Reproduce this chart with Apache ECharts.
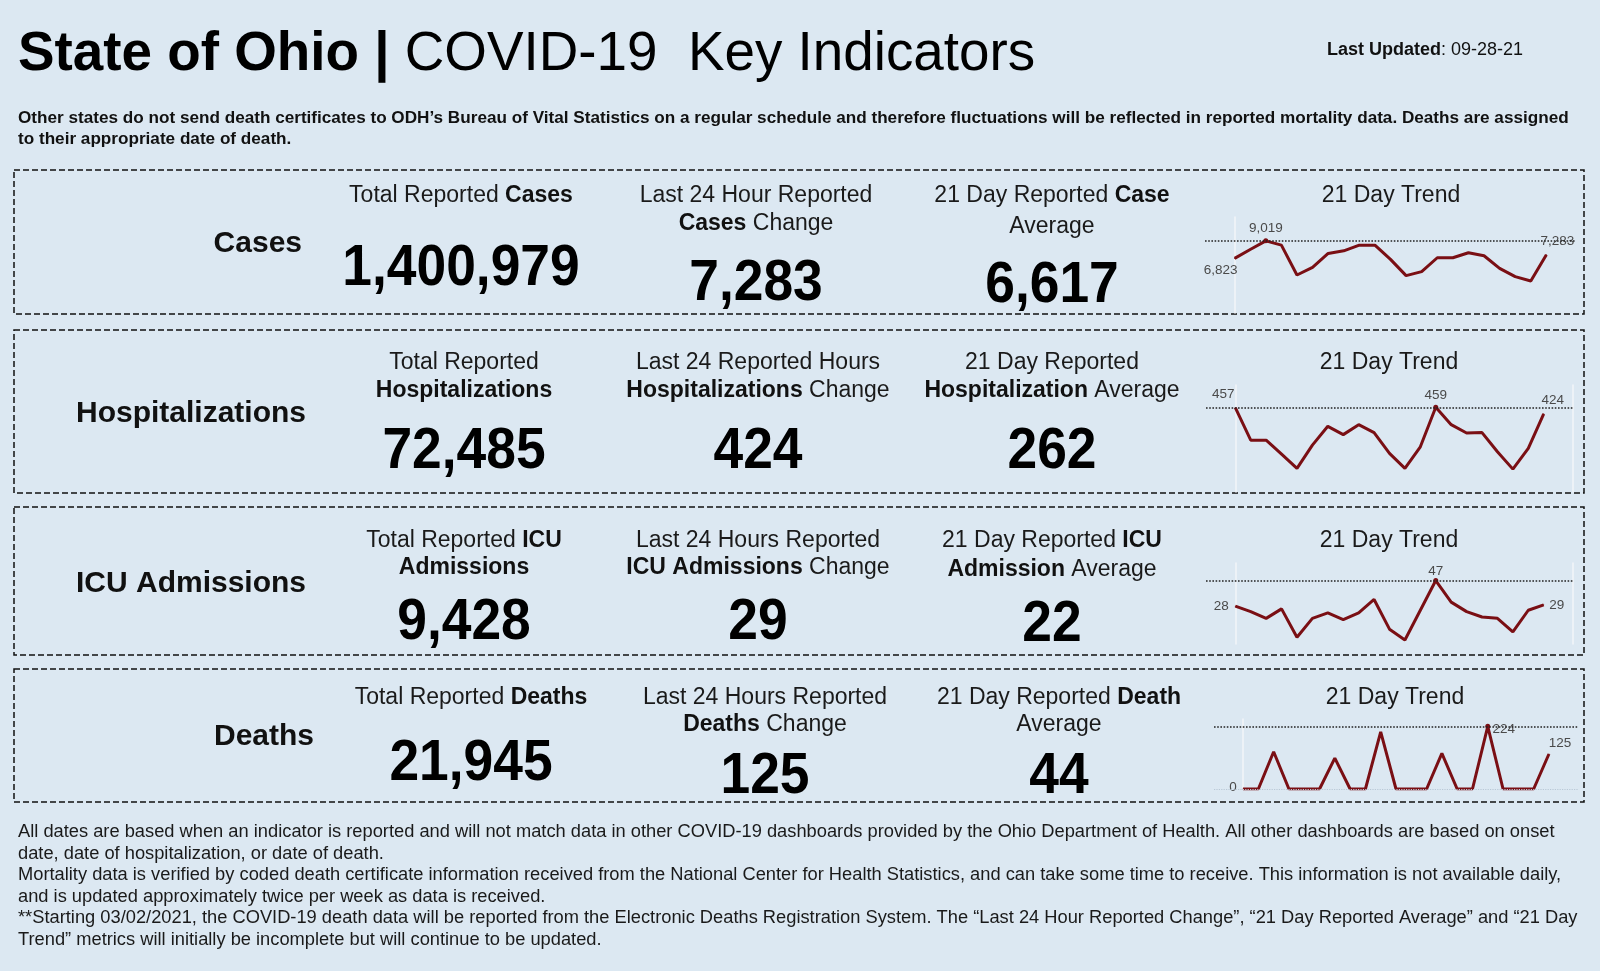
<!DOCTYPE html>
<html><head><meta charset="utf-8">
<script src="https://cdn.jsdelivr.net/npm/echarts@6/dist/echarts.min.js"></script>
<style>html,body{margin:0;padding:0;background:#dce8f2;}#c{width:1600px;height:971px;}</style>
</head><body><div id="c"></div>
<script>
// ---------- DATA ----------
const rowLabels = ['Cases', 'Hospitalizations', 'ICU Admissions', 'Deaths'];
const totalValues = ['1,400,979', '72,485', '9,428', '21,945'];
const last24Values = ['7,283', '424', '29', '125'];
const avg21Values = ['6,617', '262', '22', '44'];
const casesTrend = [6823, 7941, 9019, 8481, 4753, 5705, 7444, 7775, 8479, 8479, 6699, 4670, 5167, 6906, 6906, 7527, 7154, 5581, 4546, 4008, 7283];
const hospTrend = [457, 281, 281, 205, 128, 254, 356, 311, 365, 322, 209, 128, 245, 459, 365, 320, 322, 218, 124, 236, 424];
const icuTrend = [28, 24, 19, 26, 5, 19, 23, 18, 23, 33, 11, 3, 25, 47, 31, 24, 20, 19, 9, 25, 29];
const deathsTrend = [0, 0, 133, 0, 0, 0, 110, 0, 0, 204, 0, 0, 0, 127, 0, 0, 224, 0, 0, 0, 125];
const titleBold = 'State of Ohio |';
const titleRegular = ' COVID-19  Key Indicators';
const updatedLabel = 'Last Updated';
const updatedDate = ': 09-28-21';
const noteLines = [
  'Other states do not send death certificates to ODH\u2019s Bureau of Vital Statistics on a regular schedule and therefore fluctuations will be reflected in reported mortality data. Deaths are assigned',
  'to their appropriate date of death.'
];
const headerLines = [
  [['{r|Total Reported }{b|Cases}'], ['{r|Last 24 Hour Reported}', '{b|Cases}{r| Change}'], ['{r|21 Day Reported }{b|Case}', '{r|Average}']],
  [['{r|Total Reported}', '{b|Hospitalizations}'], ['{r|Last 24 Reported Hours}', '{b|Hospitalizations}{r| Change}'], ['{r|21 Day Reported}', '{b|Hospitalization}{r| Average}']],
  [['{r|Total Reported }{b|ICU}', '{b|Admissions}'], ['{r|Last 24 Hours Reported}', '{b|ICU Admissions}{r| Change}'], ['{r|21 Day Reported }{b|ICU}', '{b|Admission}{r| Average}']],
  [['{r|Total Reported }{b|Deaths}'], ['{r|Last 24 Hours Reported}', '{b|Deaths}{r| Change}'], ['{r|21 Day Reported }{b|Death}', '{r|Average}']]
];
const trendTitle = '21 Day Trend';
const footerLines = [
  'All dates are based when an indicator is reported and will not match data in other COVID-19 dashboards provided by the Ohio Department of Health. All other dashboards are based on onset',
  'date, date of hospitalization, or date of death.',
  'Mortality data is verified by coded death certificate information received from the National Center for Health Statistics, and can take some time to receive. This information is not available daily,',
  'and is updated approximately twice per week as data is received.',
  '**Starting 03/02/2021, the COVID-19 death data will be reported from the Electronic Deaths Registration System. The \u201cLast 24 Hour Reported Change\u201d, \u201c21 Day Reported Average\u201d and \u201c21 Day',
  'Trend\u201d metrics will initially be incomplete but will continue to be updated.'
];

// ---------- LAYOUT ----------
const FF = '"Liberation Sans", Arial, Helvetica, sans-serif';
const panels = [[14, 170, 1570, 144], [14, 330, 1570, 163], [14, 507, 1570, 148], [14, 669, 1570, 133]];
const labelPos = [[302, 244], [306, 414], [306, 584], [314, 737]];
const colX = [[461, 756, 1052, 1391], [464, 758, 1052, 1389], [464, 758, 1052, 1389], [471, 765, 1059, 1395]];
const headY = [[196, 224], [363, 391], [541, 568], [698, 725]];
const head2Adj = [[0, 0, 3], [0, 0, 0], [0, 0, 2], [0, 0, 0]];
const numY = [[269, 284, 286], [452, 452, 452], [623, 623, 625], [764, 777, 777]];
const grids = [
  {left: 1205, top: 217, width: 371, height: 96, max: 12000},
  {left: 1206, top: 385, width: 367, height: 107, max: 580},
  {left: 1206, top: 563, width: 367, height: 81, max: 60},
  {left: 1214, top: 719, width: 364, height: 70, max: 250}
];
const trends = [casesTrend, hospTrend, icuTrend, deathsTrend];
// label centre offsets (px) from the point for first / max / last values
const labelOff = [
  [[-14, 12], [0, -13], [11, -13]],
  [[-12, -13], [0, -12], [9, -13]],
  [[-14, 0], [0, -9], [13, 0]],
  [[-10, -2], [16, 3], [11, -11]]
];

const rich = (fs) => ({
  r: {fontSize: fs, fontFamily: FF, fontWeight: 'normal', fill: '#1a1a1a', color: '#1a1a1a'},
  b: {fontSize: fs, fontFamily: FF, fontWeight: 'bold', fill: '#111', color: '#111'}
});

const graphics = [];
graphics.push({type: 'text', x: 18, y: 55, style: {
  text: '{b|' + titleBold + '}{r|' + titleRegular + '}',
  rich: {b: {fontSize: 54.8, fontWeight: 'bold', fontFamily: FF, fill: '#000', color: '#000'},
         r: {fontSize: 54.8, fontWeight: 'normal', fontFamily: FF, fill: '#000', color: '#000'}},
  textAlign: 'left', textVerticalAlign: 'middle'}});
graphics.push({type: 'text', x: 1327, y: 50, style: {
  text: '{b|' + updatedLabel + '}{r|' + updatedDate + '}',
  rich: {b: {fontSize: 18, fontWeight: 'bold', fontFamily: FF, fill: '#111'}, r: {fontSize: 18, fontFamily: FF, fill: '#111'}},
  textAlign: 'left', textVerticalAlign: 'middle'}});
noteLines.forEach((t, i) => graphics.push({type: 'text', x: 18, y: 118 + i * 21, style: {
  text: t, fontSize: 17.15, fontWeight: 'bold', fontFamily: FF, fill: '#111', textAlign: 'left', textVerticalAlign: 'middle'}}));
footerLines.forEach((t, i) => graphics.push({type: 'text', x: 18, y: 832 + i * 21.6, style: {
  text: t, fontSize: 18.3, fontFamily: FF, fill: '#1a1a1a', textAlign: 'left', textVerticalAlign: 'middle'}}));

panels.forEach((p, r) => {
  graphics.push({type: 'rect', shape: {x: p[0], y: p[1], width: p[2], height: p[3]},
    style: {fill: 'none', stroke: '#111', lineWidth: 1.5, lineDash: [6, 3]}});
  graphics.push({type: 'text', x: labelPos[r][0], y: labelPos[r][1], style: {
    text: rowLabels[r], fontSize: 30, fontWeight: 'bold', fontFamily: FF, fill: '#111', textAlign: 'right', textVerticalAlign: 'middle'}});
  headerLines[r].forEach((lines, c) => {
    lines.forEach((ln, k) => graphics.push({type: 'text', x: colX[r][c], y: headY[r][k] + (k ? head2Adj[r][c] : 0), style: {
      text: ln, rich: rich(23), textAlign: 'center', textVerticalAlign: 'middle'}}));
  });
  graphics.push({type: 'text', x: colX[r][3], y: headY[r][0], style: {
    text: trendTitle, fontSize: 23, fontFamily: FF, fill: '#1a1a1a', textAlign: 'center', textVerticalAlign: 'middle'}});
  [totalValues[r], last24Values[r], avg21Values[r]].forEach((v, c) => graphics.push({
    type: 'text', x: colX[r][c], y: numY[r][c], scaleX: 0.92, style: {
      text: v, fontSize: 58, fontWeight: 'bold', fontFamily: FF, fill: '#000', textAlign: 'center', textVerticalAlign: 'middle'}}));
});

const gridOpt = [], xAxes = [], yAxes = [], series = [];
trends.forEach((arr, r) => {
  const g = grids[r];
  gridOpt.push({left: g.left, top: g.top, width: g.width, height: g.height, containLabel: false});
  xAxes.push({type: 'value', gridIndex: r, min: -1.9, max: 21.9, show: false});
  yAxes.push({type: 'value', gridIndex: r, min: 0, max: g.max, axisLabel: {show: false}, axisTick: {show: false},
    splitLine: {show: false}, axisLine: {show: true, lineStyle: {color: '#f3f6f9', width: 1.5}}});
  const yIdx = yAxes.length - 1;
  if (r === 1 || r === 2) {
    yAxes.push({type: 'value', gridIndex: r, position: 'right', min: 0, max: g.max, axisLabel: {show: false}, axisTick: {show: false},
      splitLine: {show: false}, axisLine: {show: true, lineStyle: {color: '#f3f6f9', width: 1.5}}});
  }
  const maxV = Math.max(...arr);
  const maxI = arr.indexOf(maxV);
  const last = arr.length - 1;
  const data = arr.map((v, k) => {
    const item = {value: [k, v]};
    let off = null;
    if (k === 0) off = labelOff[r][0];
    else if (k === maxI) off = labelOff[r][1];
    else if (k === last) off = labelOff[r][2];
    if (off) {
      const sz = (k === maxI) ? 5 : 1;
      item.symbol = 'circle';
      item.symbolSize = sz;
      item.label = {show: true, position: [off[0] + sz / 2, off[1] + sz / 2], align: 'center', verticalAlign: 'middle',
        formatter: (p) => p.value[1].toLocaleString('en-US'), fontSize: 13.5, color: '#4a4a4a', fontFamily: FF};
    }
    return item;
  });
  const mlData = [{type: 'max', lineStyle: {type: 'dotted', color: '#222', width: 1.6}}];
  if (r === 3) mlData.push({type: 'min', lineStyle: {type: 'dotted', color: '#b9c8d6', width: 1.2}});
  series.push({type: 'line', xAxisIndex: r, yAxisIndex: yIdx, data,
    symbol: 'none', showSymbol: true, showAllSymbol: true, lineStyle: {color: '#7a0f14', width: 3}, itemStyle: {color: '#7a0f14'},
    labelLayout: {hideOverlap: false},
    animation: false, silent: true,
    markLine: {silent: true, symbol: 'none', label: {show: false}, data: mlData, animation: false}});
});

const chart = echarts.init(document.getElementById('c'));
chart.setOption({
  backgroundColor: '#dce8f2',
  animation: false,
  grid: gridOpt, xAxis: xAxes, yAxis: yAxes, series,
  graphic: graphics
});
</script></body></html>
